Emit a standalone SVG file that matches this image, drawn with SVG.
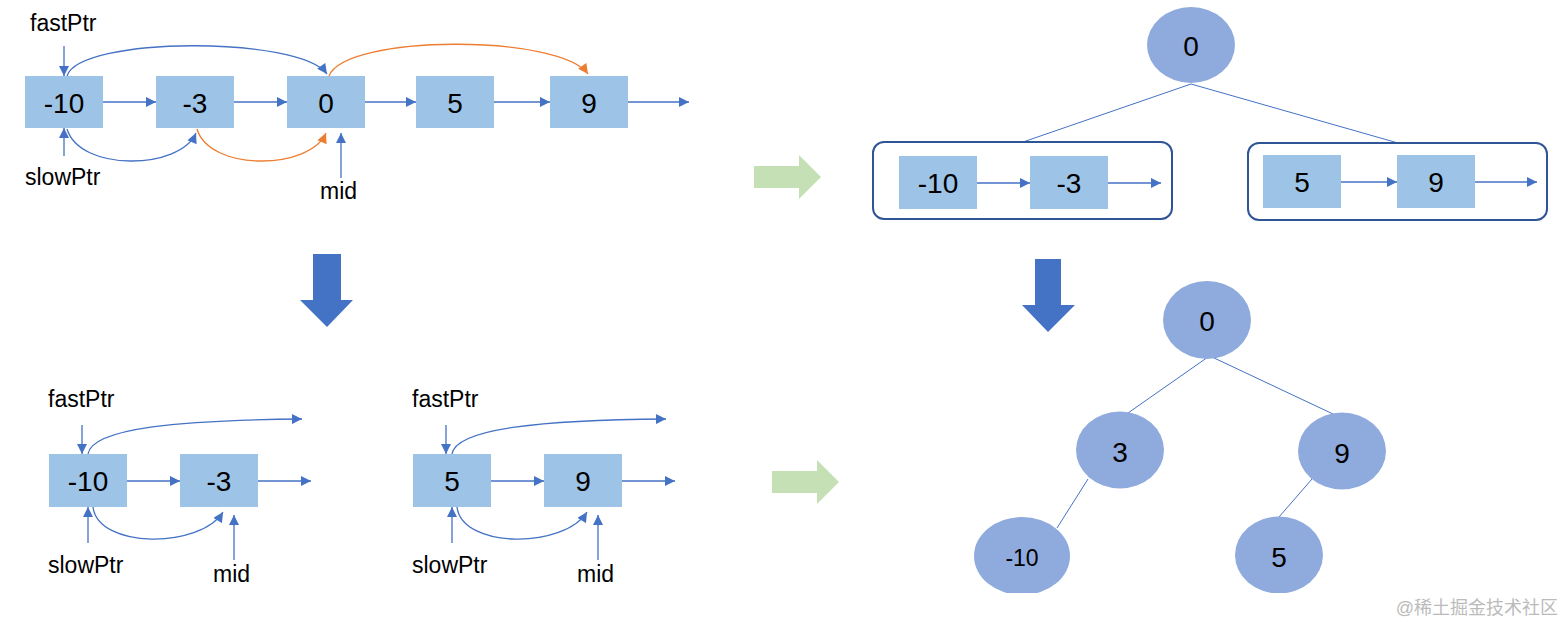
<svg xmlns="http://www.w3.org/2000/svg" width="1564" height="625" viewBox="0 0 1564 625">
<style>
.box{fill:#9DC3E6}
.ell{fill:#8FAADC}
.grp{fill:none;stroke:#2F5597;stroke-width:2}
.lbl{font-family:"Liberation Sans",Arial,sans-serif;font-size:28px;fill:#000;text-anchor:middle}
.ptr{font-family:"Liberation Sans",Arial,sans-serif;font-size:23px;fill:#000}
.c{fill:none;stroke:#4472C4;stroke-width:1.3}
.co{fill:none;stroke:#ED7D31;stroke-width:1.3}
.a{marker-end:url(#ab)}
.ao{marker-end:url(#ao)}
.tl{fill:none;stroke:#4472C4;stroke-width:1}
.big{fill:#4472C4}
.grn{fill:#C5E0B4}
</style>
<defs>
<marker id="ab" viewBox="0 0 10 10" refX="10" refY="5" markerWidth="11" markerHeight="10" markerUnits="userSpaceOnUse" orient="auto"><path d="M0,0 L10,5 L0,10 z" fill="#4472C4"/></marker>
<marker id="ao" viewBox="0 0 10 10" refX="10" refY="5" markerWidth="11" markerHeight="10" markerUnits="userSpaceOnUse" orient="auto"><path d="M0,0 L10,5 L0,10 z" fill="#ED7D31"/></marker>
<clipPath id="cut"><rect x="0" y="0" width="1564" height="593"/></clipPath>
</defs>
<rect width="1564" height="625" fill="#fff"/>

<!-- connectors -->
<g id="connectors">
  <!-- top-left list -->
  <line class="c a" x1="103" y1="102" x2="156" y2="102"/>
  <line class="c a" x1="234" y1="102" x2="287" y2="102"/>
  <line class="c a" x1="365" y1="102" x2="416" y2="102"/>
  <line class="c a" x1="494" y1="102" x2="550" y2="102"/>
  <line class="c a" x1="628" y1="102" x2="689" y2="102"/>
  <line class="c a" x1="64" y1="46" x2="64" y2="76"/>
  <line class="c a" x1="64" y1="156" x2="64" y2="128"/>
  <line class="c a" x1="341" y1="178" x2="341" y2="133"/>
  <path class="c a" d="M67,76 C80,36 300,36 327,74"/>
  <path class="co ao" d="M329,76 C345,34 560,34 588,74"/>
  <path class="c a" d="M67,129 C80,172 180,170 196,133"/>
  <path class="co ao" d="M197,129 C210,172 310,170 326,133"/>

  <!-- bottom-left list -->
  <line class="c a" x1="127" y1="481" x2="180" y2="481"/>
  <line class="c a" x1="258" y1="481" x2="311" y2="481"/>
  <line class="c a" x1="82" y1="425" x2="82" y2="454"/>
  <line class="c a" x1="88" y1="543" x2="88" y2="507"/>
  <line class="c a" x1="234" y1="560" x2="234" y2="515"/>
  <path class="c a" d="M88,454 C92,428 180,420 302,419"/>
  <path class="c a" d="M93,507 C98,549 200,549 223,512"/>

  <!-- bottom-middle list -->
  <line class="c a" x1="491" y1="481" x2="544" y2="481"/>
  <line class="c a" x1="622" y1="481" x2="675" y2="481"/>
  <line class="c a" x1="446" y1="425" x2="446" y2="454"/>
  <line class="c a" x1="452" y1="543" x2="452" y2="507"/>
  <line class="c a" x1="598" y1="560" x2="598" y2="515"/>
  <path class="c a" d="M452,454 C456,428 544,420 666,419"/>
  <path class="c a" d="M457,507 C462,549 564,549 587,512"/>

  <!-- right top -->
  <line class="tl" x1="1191" y1="84" x2="1023" y2="142"/>
  <line class="tl" x1="1191" y1="84" x2="1398" y2="143"/>
  <line class="c a" x1="977" y1="183" x2="1030" y2="183"/>
  <line class="c a" x1="1108" y1="183" x2="1161" y2="183"/>
  <line class="c a" x1="1341" y1="182" x2="1397" y2="182"/>
  <line class="c a" x1="1475" y1="182" x2="1537" y2="182"/>

  <!-- right bottom tree -->
  <line class="tl" x1="1208" y1="357" x2="1128" y2="413"/>
  <line class="tl" x1="1212" y1="357" x2="1333" y2="414"/>
  <line class="tl" x1="1088" y1="479" x2="1057" y2="528"/>
  <line class="tl" x1="1312" y1="479" x2="1279" y2="517"/>
</g>

<!-- big arrows -->
<g id="arrow-down-left"><path class="big" d="M313,254 H341 V300 H353 L327,327 L300,300 H313 Z"/></g>
<g id="arrow-down-right"><path class="big" d="M1035,259 H1061 V305 H1075 L1048,332 L1022,305 H1035 Z"/></g>
<g id="arrow-right-top"><path class="grn" d="M754,166 H799 V155 L821,177 L799,199 V188 H754 Z"/></g>
<g id="arrow-right-bottom"><path class="grn" d="M772,471 H817 V460 L839,482 L817,504 V493 H772 Z"/></g>

<!-- top-left list nodes -->
<g id="n-m10"><rect class="box" x="25" y="76" width="78" height="52"/><text class="lbl" x="64" y="113">-10</text></g>
<g id="n-m3"><rect class="box" x="156" y="76" width="78" height="52"/><text class="lbl" x="195" y="113">-3</text></g>
<g id="n-0"><rect class="box" x="287" y="76" width="78" height="52"/><text class="lbl" x="326" y="113">0</text></g>
<g id="n-5"><rect class="box" x="416" y="76" width="78" height="52"/><text class="lbl" x="455" y="113">5</text></g>
<g id="n-9"><rect class="box" x="550" y="76" width="78" height="52"/><text class="lbl" x="589" y="113">9</text></g>
<g id="lbl-fast1"><text class="ptr" x="30" y="31">fastPtr</text></g>
<g id="lbl-slow1"><text class="ptr" x="25" y="185">slowPtr</text></g>
<g id="lbl-mid1"><text class="ptr" x="320" y="199">mid</text></g>

<!-- bottom-left list -->
<g id="b-m10"><rect class="box" x="49" y="454" width="78" height="53"/><text class="lbl" x="88" y="491">-10</text></g>
<g id="b-m3"><rect class="box" x="180" y="454" width="78" height="53"/><text class="lbl" x="219" y="491">-3</text></g>
<g id="lbl-fast2"><text class="ptr" x="48" y="407">fastPtr</text></g>
<g id="lbl-slow2"><text class="ptr" x="48" y="573">slowPtr</text></g>
<g id="lbl-mid2"><text class="ptr" x="213" y="582">mid</text></g>

<!-- bottom-middle list -->
<g id="b-5"><rect class="box" x="413" y="454" width="78" height="53"/><text class="lbl" x="452" y="491">5</text></g>
<g id="b-9"><rect class="box" x="544" y="454" width="78" height="53"/><text class="lbl" x="583" y="491">9</text></g>
<g id="lbl-fast3"><text class="ptr" x="412" y="407">fastPtr</text></g>
<g id="lbl-slow3"><text class="ptr" x="412" y="573">slowPtr</text></g>
<g id="lbl-mid3"><text class="ptr" x="577" y="582">mid</text></g>

<!-- right top -->
<g id="t-0"><ellipse class="ell" cx="1191" cy="45" rx="44" ry="38"/><text class="lbl" x="1191" y="56">0</text></g>
<g id="grp-left"><rect class="grp" x="873" y="142" width="299" height="77" rx="11"/>
  <rect class="box" x="899" y="156" width="78" height="53"/><text class="lbl" x="938" y="193">-10</text>
  <rect class="box" x="1030" y="156" width="78" height="53"/><text class="lbl" x="1069" y="193">-3</text></g>
<g id="grp-right"><rect class="grp" x="1248" y="143" width="299" height="77" rx="11"/>
  <rect class="box" x="1263" y="155" width="78" height="53"/><text class="lbl" x="1302" y="192">5</text>
  <rect class="box" x="1397" y="155" width="78" height="53"/><text class="lbl" x="1436" y="192">9</text></g>

<!-- right bottom tree -->
<g id="r-0"><ellipse class="ell" cx="1207" cy="320" rx="44" ry="39"/><text class="lbl" x="1207" y="331">0</text></g>
<g id="r-3"><ellipse class="ell" cx="1120" cy="450" rx="44" ry="38.5"/><text class="lbl" x="1120" y="462">3</text></g>
<g id="r-9"><ellipse class="ell" cx="1342" cy="451" rx="44" ry="38.5"/><text class="lbl" x="1342" y="463">9</text></g>
<g id="r-m10" clip-path="url(#cut)"><ellipse class="ell" cx="1022" cy="556" rx="48" ry="39"/><text class="lbl" x="1022" y="566" style="font-size:23px">-10</text></g>
<g id="r-5" clip-path="url(#cut)"><ellipse class="ell" cx="1279" cy="555" rx="44" ry="38.5"/><text class="lbl" x="1279" y="567">5</text></g>

<text x="1558" y="614" text-anchor="end" style="font-family:'Liberation Sans','Noto Sans CJK SC',sans-serif;font-size:18px;fill:#BBBBBB">@稀土掘金技术社区</text>
</svg>
